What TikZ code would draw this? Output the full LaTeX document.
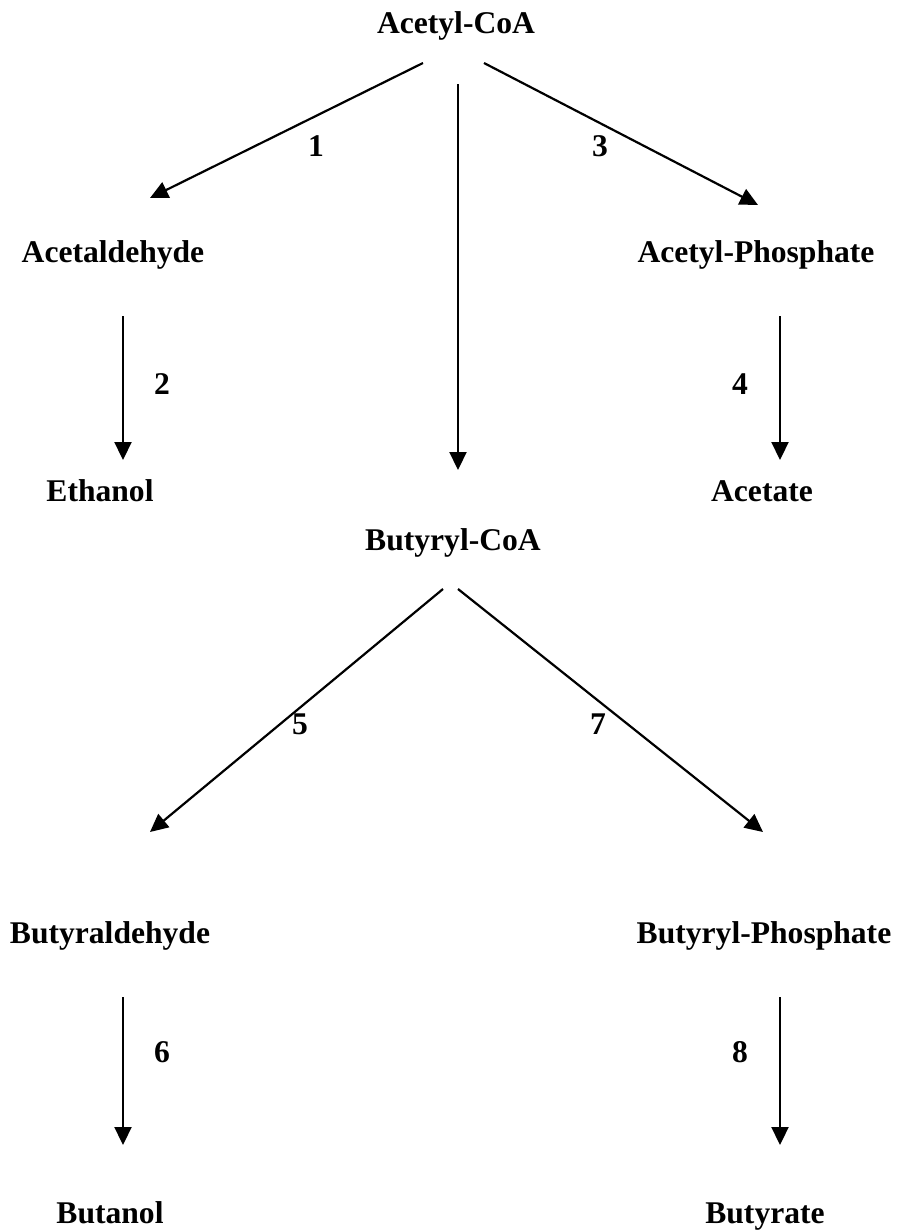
\documentclass[tikz,border=0pt]{standalone}
\usepackage{fontspec}
\setmainfont{Liberation Serif}
\usetikzlibrary{arrows.meta}
\begin{document}
\begin{tikzpicture}[x=1pt,y=-1pt,
  lbl/.style={font=\fontsize{31.6}{36}\selectfont\bfseries, anchor=base, inner sep=0pt},
  num/.style={lbl},
  arr/.style={line width=2.2pt, -{Triangle[length=18pt,width=17pt]}}]
\useasboundingbox (0,0) rectangle (899,1232);
\fill[white] (0,0) rectangle (899,1232);
% compounds
\node[lbl] (acoa)  at (456,33)   {Acetyl-CoA};
\node[lbl] (acald) at (113,262)  {Acetaldehyde};
\node[lbl] (acp)   at (756,262)  {Acetyl-Phosphate};
\node[lbl] (etoh)  at (100,501)  {Ethanol};
\node[lbl] (ac)    at (762,501)  {Acetate};
\node[lbl] (bcoa)  at (453,550)  {Butyryl-CoA};
\node[lbl] (bald)  at (110,943)  {Butyraldehyde};
\node[lbl] (bp)    at (764,943)  {Butyryl-Phosphate};
\node[lbl] (buoh)  at (110,1223) {Butanol};
\node[lbl] (but)   at (765,1223) {Butyrate};
% connector end points
\coordinate (s1) at (423,63);  \coordinate (e1) at (150,198);
\coordinate (s3) at (484,63);  \coordinate (e3) at (758,205);
\coordinate (sc) at (458,84);  \coordinate (ec) at (458,470);
\coordinate (s2) at (123,316); \coordinate (e2) at (123,460);
\coordinate (s4) at (780,316); \coordinate (e4) at (780,460);
\coordinate (s5) at (443,589); \coordinate (e5) at (150,832);
\coordinate (s7) at (458,589); \coordinate (e7) at (763,832);
\coordinate (s6) at (123,997); \coordinate (e6) at (123,1145);
\coordinate (s8) at (780,997); \coordinate (e8) at (780,1145);
\draw[arr] (s1) -- (e1);
\draw[arr] (s3) -- (e3);
\draw[arr] (sc) -- (ec);
\draw[arr] (s2) -- (e2);
\draw[arr] (s4) -- (e4);
\draw[arr] (s5) -- (e5);
\draw[arr] (s7) -- (e7);
\draw[arr] (s6) -- (e6);
\draw[arr] (s8) -- (e8);
% reaction numbers
\node[num] (n1) at (316,156)  {1};
\node[num] (n3) at (600,156)  {3};
\node[num] (n2) at (162,394)  {2};
\node[num] (n4) at (740,394)  {4};
\node[num] (n5) at (300,734)  {5};
\node[num] (n7) at (598,734)  {7};
\node[num] (n6) at (162,1062) {6};
\node[num] (n8) at (740,1062) {8};
\end{tikzpicture}
\end{document}
